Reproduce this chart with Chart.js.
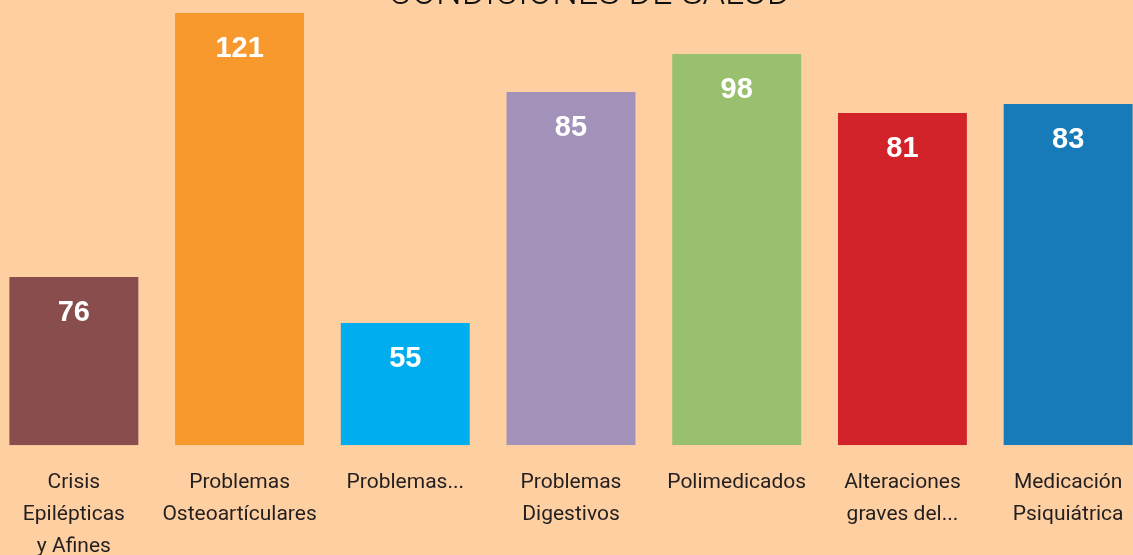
<!DOCTYPE html>
<html>
<head>
<meta charset="utf-8">
<script src="https://cdn.jsdelivr.net/npm/chart.js@4/dist/chart.umd.min.js"></script>
<style>
  html, body { margin: 0; padding: 0; background: #fecfa1; overflow: hidden; }
  body { width: 1133px; height: 555px; position: relative; }
  /* the reference is a crop: the plot runs past the left/right edges and the title is cut at the top */
  #wrap { position: absolute; left: -9px; top: -23px; width: 1188px; height: 608px; }
</style>
</head>
<body>
<div id="wrap"><canvas id="saludChart"></canvas></div>
<script>
  // categories, as they are wrapped/truncated under the bars
  const categories = [
    ["Crisis", "Epilépticas", "y Afines"],
    ["Problemas", "Osteoartículares"],
    ["Problemas..."],
    ["Problemas", "Digestivos"],
    ["Polimedicados"],
    ["Alteraciones", "graves del..."],
    ["Medicación", "Psiquiátrica"]
  ];
  // numbers printed on the bars
  const shownValues = [76, 121, 55, 85, 98, 81, 83];
  // bar lengths as drawn in the picture (not proportional to the printed numbers),
  // in units where the tallest bar = 121
  const barLengths = [47.1, 121, 34.2, 98.9, 109.5, 93.0, 95.5];
  const barColors = ["#8a4d4d", "#f7992d", "#00aeef", "#a292b9", "#98c06e", "#d2232a", "#167bb8"];

  // writes the printed number inside the top of each bar
  const barNumbers = {
    id: "barNumbers",
    afterDatasetsDraw(chart) {
      let ctx = chart.ctx;
      let meta = chart.getDatasetMeta(0);
      ctx.save();
      ctx.fillStyle = "#ffffff";
      ctx.font = "bold 29px 'Liberation Sans', Arial, sans-serif";
      ctx.textAlign = "center";
      ctx.textBaseline = "middle";
      meta.data.forEach(function (bar, i) {
        ctx.fillText(String(shownValues[i]), bar.x, bar.y + 36);
      });
      ctx.restore();
    }
  };

  var ctx = document.getElementById("saludChart").getContext("2d");
  var chart = new Chart(ctx, {
    type: "bar",
    data: {
      labels: categories,
      datasets: [{
        data: barLengths,
        backgroundColor: barColors,
        borderWidth: 0,
        categoryPercentage: 1,
        barPercentage: 0.778
      }]
    },
    options: {
      responsive: true,
      maintainAspectRatio: false,
      animation: false,
      layout: { padding: { left: 0, right: 28, top: 0, bottom: 0 } },
      plugins: {
        legend: { display: false },
        tooltip: { enabled: false },
        title: {
          display: true,
          text: "\u2003CONDICIONES DE SALUD",
          color: "#111111",
          font: { family: "Roboto", size: 36, weight: 300, lineHeight: 1 },
          padding: { top: 0, bottom: 0 }
        }
      },
      scales: {
        x: {
          grid: { display: false, drawTicks: false },
          border: { display: false },
          ticks: {
            color: "#231f20",
            font: { family: "Roboto", size: 21, lineHeight: 1.52 },
            padding: 22,
            maxRotation: 0,
            autoSkip: false
          }
        },
        y: {
          display: false,
          min: 0,
          max: 121
        }
      }
    },
    plugins: [barNumbers]
  });
</script>
</body>
</html>
